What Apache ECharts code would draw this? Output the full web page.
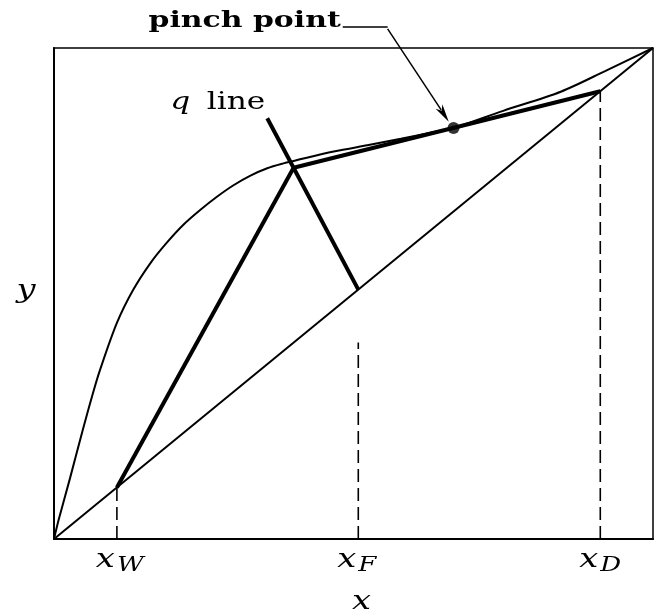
<!DOCTYPE html>
<html>
<head>
<meta charset="utf-8">
<script src="https://cdn.jsdelivr.net/npm/echarts@6/dist/echarts.min.js"></script>
<style>html,body{margin:0;padding:0;background:#fff}#c{width:654px;height:610px}</style>
</head>
<body>
<div id="c"></div>
<script>
// ---- data (in mole-fraction units 0..1) ----
const eqX = [0, 0.008, 0.027, 0.048, 0.065, 0.077, 0.105, 0.132, 0.161, 0.188, 0.216, 0.244, 0.272, 0.299, 0.328, 0.356, 0.383, 0.400, 0.467, 0.523, 0.579, 0.634, 0.667, 0.750, 0.846, 0.920, 1];
const eqY = [0, 0.040, 0.125, 0.222, 0.297, 0.345, 0.440, 0.507, 0.562, 0.603, 0.640, 0.670, 0.697, 0.720, 0.740, 0.755, 0.765, 0.770, 0.789, 0.802, 0.815, 0.829, 0.837, 0.872, 0.911, 0.953, 1];
const xW = 0.105, xF = 0.508, xD = 0.912;
const opIntersect = [0.400, 0.756];     // q line meets both operating lines
const qLineTop = [0.356, 0.857];        // upper end of the q line
const pinchPoint = [0.667, 0.837];
const xFDashTop = 0.40;                 // dashed line under x_F stops here
const leader = [[0.482, 1.043], [0.557, 1.043], [0.659, 0.850]];
const tickNames = [['x', 'W'], ['x', 'F'], ['x', 'D']];
const tickValues = [xW, xF, xD];
const labelPinch = 'pinch point';
const labelQ = ['q', 'line'];
const axisNameX = 'x', axisNameY = 'y';

const serif = '"DejaVu Serif", "Liberation Serif", serif';
const zip = (a, b) => a.map((v, i) => [v, b[i]]);
const lineS = (data, w, extra) => Object.assign({
  type: 'line', data, showSymbol: false, symbol: 'none', silent: true,
  lineStyle: {color: '#000', width: w}, z: 3
}, extra || {});
const dash = {color: '#000', width: 1.6, type: [13, 6]};

const option = {
  animation: false,
  backgroundColor: '#fff',
  grid: {left: 54, right: 1, top: 48, bottom: 71, show: true, borderColor: '#000', borderWidth: 1.5},
  xAxis: {type: 'value', min: 0, max: 1, axisLine: {show: true, onZero: false, lineStyle: {color: '#000', width: 2}},
          axisTick: {show: false}, axisLabel: {show: false}, splitLine: {show: false}},
  yAxis: {type: 'value', min: 0, max: 1, axisLine: {show: true, onZero: false, lineStyle: {color: '#000', width: 2}},
          axisTick: {show: false}, axisLabel: {show: false}, splitLine: {show: false}},
  series: [
    // dashed verticals
    lineS([[xW, 0], [xW, xW]], 1.6, {lineStyle: dash, z: 2}),
    lineS([[xF, 0], [xF, xFDashTop]], 1.6, {lineStyle: dash, z: 2}),
    lineS([[xD, 0], [xD, xD]], 1.6, {lineStyle: dash, z: 2}),
    // 45-degree diagonal
    lineS([[0, 0], [1, 1]], 2),
    // equilibrium curve
    lineS(zip(eqX, eqY), 2, {smooth: 0.3}),
    // stripping operating line
    lineS([[xW, xW], opIntersect], 4),
    // rectifying operating line
    lineS([opIntersect, [xD, xD]], 4),
    // q line
    lineS([[xF, xF], qLineTop], 4),
    // pinch point marker
    {type: 'scatter', data: [pinchPoint], symbolSize: 12, itemStyle: {color: '#000'}, silent: true, z: 5},
    // leader to the pinch point (horizontal part + slanted part)
    lineS(leader.slice(0, 2), 1.5, {clip: false})
  ]
};

const chart = echarts.init(document.getElementById('c'));
chart.setOption(option);
const px = p => chart.convertToPixel({gridIndex: 0}, p);

const SX = 1.3;
function txt(text, x, y, size, align, opts) {
  opts = opts || {};
  return {
    type: 'text', x, y, scaleX: opts.scaleX || SX, originX: 0, originY: 0, silent: true, z: 10,
    style: {
      text, fill: '#000', textAlign: align, align: align, textVerticalAlign: 'middle', verticalAlign: 'middle',
      font: (opts.italic ? 'italic ' : '') + (opts.bold ? 'bold ' : '') + size + 'px ' + serif
    }
  };
}
const g = [];
tickValues.forEach((v, i) => {
  const [cx, cy] = px([v, 0]);
  g.push(txt(tickNames[i][0], cx - 2, cy + 21, 26, 'right', {italic: true}));
  g.push(txt(tickNames[i][1], cx, cy + 27, 20, 'left', {italic: true}));
});
const [yx, yy] = px([0, 0.5]);
g.push(txt(axisNameY, yx - 28, yy - 2, 26, 'center', {italic: true}));
const [bx, by] = px([0.5, 0]);
g.push(txt(axisNameX, bx + 8, by + 63, 26, 'center', {italic: true}));
const [qx, qy] = px(qLineTop);
g.push(txt(labelQ[1], qx - 2, qy - 15, 24, 'right'));
g.push(txt(labelQ[0], qx - 77, qy - 15, 24, 'right', {italic: true}));
const [lx, ly] = px(leader[0]);
g.push(txt(labelPinch, lx - 2, ly - 6, 22, 'right', {bold: true, scaleX: 1.36}));

// slanted leader with arrowhead, positioned from data points
const P1 = px(leader[1]), T = px(leader[2]);
const dx = T[0] - P1[0], dy = T[1] - P1[1], len = Math.hypot(dx, dy);
const ux = dx / len, uy = dy / len, nx = -uy, ny = ux;
const AL = 18, AW = 4;
const B = [T[0] - ux * AL, T[1] - uy * AL];
g.push({type: 'line', silent: true, z: 9, shape: {x1: P1[0], y1: P1[1] + 2, x2: B[0] + ux * 4, y2: B[1] + uy * 4},
        style: {stroke: '#000', lineWidth: 1.5}});
g.push({type: 'polygon', silent: true, z: 9,
        shape: {points: [[T[0], T[1]], [B[0] + nx * AW, B[1] + ny * AW], [B[0] + ux * 5, B[1] + uy * 5], [B[0] - nx * AW, B[1] - ny * AW]]},
        style: {fill: '#000'}});
chart.setOption({graphic: {elements: g}});
</script>
</body>
</html>
